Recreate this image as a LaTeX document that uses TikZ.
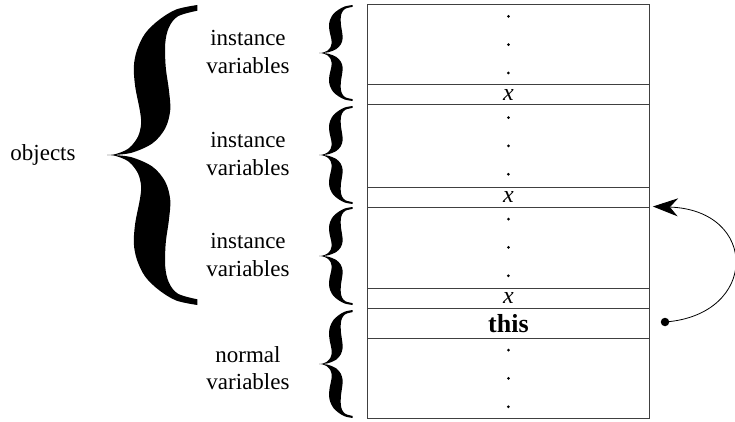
\documentclass[tikz,border=0pt]{standalone}
\usepackage{fontspec}
\setmainfont{Liberation Serif}
\newfontfamily\tnrfont{Liberation Serif}
\usetikzlibrary{arrows.meta,calc}
\newcommand\bracefill{%
  \fill plot[smooth,tension=0.55] coordinates {(0.992,0) (0.76,0.03) (0.57,0.1) (0.42,0.189) (0.33,0.3) (0.295,0.411) (0.31,0.544) (0.36,0.7) (0.375,0.789) (0.34,0.878) (0.24,0.955) (0.1,0.993) (0,1)}
  -- plot[smooth,tension=0.55] coordinates {(0,1) (0.1,1.007) (0.24,1.045) (0.34,1.122) (0.375,1.211) (0.36,1.3) (0.31,1.456) (0.295,1.589) (0.33,1.7) (0.42,1.811) (0.57,1.9) (0.76,1.97) (0.992,2)}
  -- plot[smooth,tension=0.55] coordinates {(0.992,1.962) (0.78,1.925) (0.68,1.85) (0.64,1.744) (0.645,1.589) (0.68,1.433) (0.695,1.3) (0.64,1.178) (0.5,1.078) (0.27,1.015) (0.06,1)}
  -- plot[smooth,tension=0.55] coordinates {(0.06,1) (0.27,0.985) (0.5,0.922) (0.64,0.822) (0.695,0.7) (0.68,0.567) (0.645,0.411) (0.64,0.256) (0.68,0.15) (0.78,0.075) (0.992,0.038)}
  -- cycle;}
\begin{document}
\begin{tikzpicture}[x=1pt,y=-1pt,
  cell/.style={draw=black!75, line width=0.9pt, minimum width=282pt, minimum height=#1, inner sep=0pt, anchor=north west},
  lbl/.style={font=\tnrfont\fontsize{23}{27.6}\selectfont, align=center},
  xlab/.style={font=\tnrfont\fontsize{24}{28}\selectfont\itshape},
  thislab/.style={font=\tnrfont\fontsize{26}{30}\selectfont\bfseries},
  vdot/.style={circle, fill=black, inner sep=0pt, minimum size=3pt},
]
\useasboundingbox (0,0) rectangle (735,422);

% table rows
\node[cell=80.5pt] (r1) at (367,4) {};
\node[cell=20pt, xlab] (x1) at (367,84.5) {x};
\node[cell=82pt] (r2) at (367,104.5) {};
\node[cell=20pt, xlab] (x2) at (367,186.5) {x};
\node[cell=81pt] (r3) at (367,206.5) {};
\node[cell=20pt, xlab] (x3) at (367,287.5) {x};
\node[cell=30.5pt, thislab] (th) at (367,307.5) {this};
\node[cell=80pt] (r5) at (367,338) {};

% vertical dots
\foreach \r in {r1,r2,r3,r5}{
  \node[vdot] at ($(\r.center)+(0,-28.3)$) {};
  \node[vdot] at (\r.center) {};
  \node[vdot] at ($(\r.center)+(0,28.3)$) {};
}

% braces
\begin{scope}[shift={(107,5)}, xscale=91, yscale=150] \bracefill \end{scope}
\begin{scope}[shift={(319,5)}, xscale=34, yscale=48] \bracefill \end{scope}
\begin{scope}[shift={(319,106)}, xscale=34, yscale=49] \bracefill \end{scope}
\begin{scope}[shift={(319,207)}, xscale=34, yscale=49] \bracefill \end{scope}
\begin{scope}[shift={(319,310)}, xscale=34, yscale=54] \bracefill \end{scope}

% labels
\node[lbl] (objects) at (43,155) {objects};
\node[lbl] (iv1) at (248,52) {instance\\variables};
\node[lbl] (iv2) at (248,154) {instance\\variables};
\node[lbl] (iv3) at (248,255) {instance\\variables};
\node[lbl] (nv) at (248,368) {normal\\variables};

% pointer arrow
\node[circle, fill=black, inner sep=0pt, minimum size=8.5pt] (src) at (665,322) {};
\coordinate (tgt) at ($(r3.north east)+(3,0)$);
\draw[line width=0.8pt, -{Stealth[length=25pt,width=18pt,inset=8pt]}]
  (src.center) .. controls (759,315) and (759,210) .. (tgt);
\end{tikzpicture}
\end{document}
